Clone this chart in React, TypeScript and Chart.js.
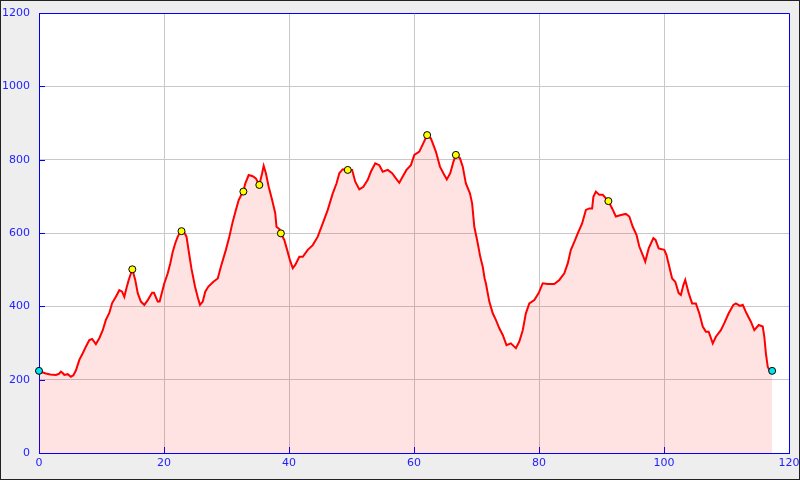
import React, { useEffect, useRef } from 'react';
import { Chart, registerables } from 'chart.js';
Chart.register(...registerables);

const distanceKm = [
  0, 0.5, 1.1, 1.8, 2.7, 3.2, 3.5, 3.8, 4.05, 4.6, 5.1, 5.5, 5.9, 6.45, 7.0, 7.5, 8.05, 8.5, 9.1, 9.65,
  10.2, 10.7, 11.25, 11.7, 12.3, 12.85, 13.3, 13.65, 14.0, 14.35, 14.93, 15.4, 15.8, 16.3, 16.85, 17.4, 18.1, 18.4, 19.0, 19.3,
  20.05, 20.6, 21.0, 21.4, 21.8, 22.2, 22.5, 22.8, 23.2, 23.6, 24.05, 24.4, 24.96, 25.4, 25.76, 26.2, 26.6, 27.1, 27.9, 28.6,
  29.1, 29.9, 30.45, 31.0, 31.5, 31.95, 32.4, 32.7, 33.0, 33.55, 34.2, 34.7, 35.25, 35.7, 35.95, 36.3, 36.75, 37.3, 37.8, 38.0,
  38.5, 38.7, 39.25, 39.7, 40.15, 40.6, 41.0, 41.65, 42.2, 43.0, 43.8, 44.6, 45.4, 46.2, 47.0, 47.6, 48.05, 48.6, 49.4, 50.1,
  50.6, 51.25, 51.9, 52.6, 53.1, 53.8, 54.45, 55.0, 55.8, 56.5, 57.1, 57.65, 58.2, 58.8, 59.5, 60.05, 60.85, 61.5, 62.1, 62.7,
  63.5, 64.15, 64.7, 65.25, 65.8, 66.3, 66.7, 67.35, 67.8, 68.3, 68.95, 69.3, 69.65, 70.2, 70.6, 71.0, 71.3, 71.5, 72.05, 72.6,
  73.1, 73.65, 74.2, 74.8, 75.5, 76.3, 76.85, 77.4, 77.9, 78.45, 79.25, 79.95, 80.6, 81.4, 82.45, 83.25, 84.05, 84.6, 85.1, 85.65,
  86.2, 86.9, 87.5, 88.05, 88.5, 88.7, 89.1, 89.65, 90.2, 91.1, 91.7, 92.3, 93.1, 93.9, 94.45, 95.0, 95.6, 96.05, 96.6, 97.0,
  97.55, 98.3, 98.65, 99.15, 100.05, 100.4, 100.85, 101.3, 101.8, 102.35, 102.7, 103.1, 103.4, 103.95, 104.5, 105.1, 105.65, 106.2, 106.7, 107.15,
  107.8, 108.3, 109.1, 109.65, 110.35, 111.1, 111.5, 112.15, 112.6, 113.2, 113.9, 114.45, 115.15, 115.8, 116.05, 116.3, 116.6, 116.85, 117.3,
];
const elevationM = [
  224, 220, 217, 214, 213, 216, 222, 218, 213, 215, 208, 212, 225, 254, 272, 290, 308, 311, 297, 313,
  335, 363, 382, 409, 426, 444, 440, 426, 450, 472, 501, 472, 436, 413, 404, 417, 437, 437, 413, 413,
  463, 490, 517, 549, 572, 590, 600, 605, 603, 590, 540, 502, 454, 425, 404, 413, 440, 454, 467, 476,
  508, 554, 590, 631, 663, 690, 705, 713, 735, 758, 755, 749, 731, 763, 783, 763, 726, 690, 654, 617,
  610, 599, 581, 554, 526, 504, 513, 535, 535, 554, 567, 590, 626, 663, 708, 735, 763, 774, 772, 772,
  740, 719, 726, 745, 767, 790, 785, 767, 772, 763, 749, 737, 754, 772, 785, 813, 822, 845, 867, 858,
  822, 781, 763, 746, 763, 794, 813, 804, 781, 735, 708, 681, 617, 572, 535, 508, 476, 463, 413, 381,
  363, 340, 322, 294, 299, 286, 304, 335, 381, 408, 417, 436, 463, 461, 461, 472, 490, 517, 554, 576,
  599, 626, 663, 667, 667, 699, 713, 704, 704, 687, 667, 645, 649, 652, 645, 617, 595, 563, 540, 522,
  558, 586, 581, 558, 554, 540, 508, 476, 467, 436, 431, 458, 472, 436, 408, 408, 381, 345, 331, 331,
  299, 317, 335, 354, 381, 404, 408, 401, 404, 381, 358, 335, 349, 345, 317, 272, 235, 226, 224,
];
const waypointKm = [14.93, 22.8, 32.7, 35.25, 38.7, 49.4, 62.1, 66.7, 91.1];
const waypointElev = [501, 605, 713, 731, 599, 772, 867, 813, 687];
const endpointKm = [0, 117.3];
const endpointElev = [224, 224];
const xTickValues = [0, 20, 40, 60, 80, 100, 120];
const yTickValues = [0, 200, 400, 600, 800, 1000, 1200];

const BLUE = '#0000ff';
const TEXT_BLUE = '#2222ff';

export default function App() {
  const ref = useRef<HTMLCanvasElement>(null);
  useEffect(() => {
    if (!ref.current) return;
    const framePlugin = {
      id: 'frame',
      beforeDraw(chart: any) {
        const { ctx, chartArea: a, width, height } = chart;
        ctx.save();
        ctx.fillStyle = '#eeeeee';
        ctx.fillRect(0, 0, width, height);
        ctx.fillStyle = '#ffffff';
        ctx.fillRect(a.left, a.top, a.right - a.left, a.bottom - a.top);
        ctx.restore();
      },
      beforeDatasetsDraw(chart: any) {
        const { ctx, chartArea: a, scales } = chart;
        ctx.save();
        ctx.strokeStyle = BLUE;
        ctx.lineWidth = 1;
        ctx.beginPath();
        ctx.moveTo(a.left + 0.5, a.top + 0.5);
        ctx.lineTo(a.right + 0.5, a.top + 0.5);
        ctx.lineTo(a.right + 0.5, a.bottom + 0.5);
        ctx.lineTo(a.left + 0.5, a.bottom + 0.5);
        ctx.closePath();
        ctx.stroke();
        ctx.beginPath();
        yTickValues.forEach((v) => {
          const y = Math.round(scales.y.getPixelForValue(v)) + 0.5;
          ctx.moveTo(a.left, y);
          ctx.lineTo(a.left + 6, y);
        });
        xTickValues.forEach((v) => {
          const x = Math.round(scales.x.getPixelForValue(v)) + 0.5;
          ctx.moveTo(x, a.bottom);
          ctx.lineTo(x, a.bottom - 6);
        });
        ctx.stroke();
        ctx.restore();
      },
      afterDraw(chart: any) {
        const { ctx, width, height } = chart;
        ctx.save();
        ctx.strokeStyle = '#222222';
        ctx.lineWidth = 1;
        ctx.strokeRect(0.5, 0.5, width - 1, height - 1);
        ctx.restore();
      },
    };

    const profile = distanceKm.map((x, i) => ({ x, y: elevationM[i] }));
    const waypoints = waypointKm.map((x, i) => ({ x, y: waypointElev[i] }));
    const endpoints = endpointKm.map((x, i) => ({ x, y: endpointElev[i] }));

    const chart = new Chart(ref.current, {
      type: 'line',
      data: {
        datasets: [
          {
            data: waypoints,
            showLine: false,
            pointRadius: 3.5,
            pointBorderWidth: 1,
            pointBackgroundColor: '#ffff00',
            pointBorderColor: '#000000',
            clip: false,
          } as any,
          {
            data: endpoints,
            showLine: false,
            pointRadius: 3.5,
            pointBorderWidth: 1,
            pointBackgroundColor: '#00e5ee',
            pointBorderColor: '#000000',
            clip: false,
          } as any,
          {
            data: profile,
            borderColor: '#ff0000',
            borderWidth: 2,
            pointRadius: 0,
            tension: 0,
            fill: 'origin',
            backgroundColor: 'rgba(255,0,0,0.115)',
          },
        ],
      },
      options: {
        animation: false,
        responsive: false,
        devicePixelRatio: 1,
        parsing: false as any,
        events: [],
        layout: { padding: { left: 0, top: 13, right: 11, bottom: 0 } },
        plugins: { legend: { display: false }, tooltip: { enabled: false }, title: { display: false } },
        scales: {
          x: {
            type: 'linear',
            min: 0,
            max: 120,
            afterFit: (s: any) => { s.height = 27; s.paddingLeft = 0; s.paddingRight = 0; },
            afterBuildTicks: (s: any) => { s.ticks = xTickValues.map((v) => ({ value: v })); },
            grid: { color: '#c8c8c8', lineWidth: 1, drawTicks: false },
            border: { color: BLUE, width: 1 },
            ticks: {
              color: TEXT_BLUE,
              font: { family: 'DejaVu Sans', size: 11 },
              padding: 4,
              maxRotation: 0,
              autoSkip: false,
              callback: (v: any) => String(v),
            },
          },
          y: {
            type: 'linear',
            min: 0,
            max: 1200,
            afterFit: (s: any) => { s.width = 39; s.paddingTop = 0; s.paddingBottom = 0; },
            afterBuildTicks: (s: any) => { s.ticks = yTickValues.map((v) => ({ value: v })); },
            grid: { color: '#c8c8c8', lineWidth: 1, drawTicks: false },
            border: { color: BLUE, width: 1 },
            ticks: {
              color: TEXT_BLUE,
              font: { family: 'DejaVu Sans', size: 11 },
              padding: 9,
              autoSkip: false,
              callback: (v: any) => String(v),
            },
          },
        },
      },
      plugins: [framePlugin],
    });
    return () => chart.destroy();
  }, []);
  return (
    <div style={{ position: 'fixed', left: 0, top: 0, width: 800, height: 480 }}>
      <canvas ref={ref} width={800} height={480} style={{ display: 'block' }} />
    </div>
  );
}
